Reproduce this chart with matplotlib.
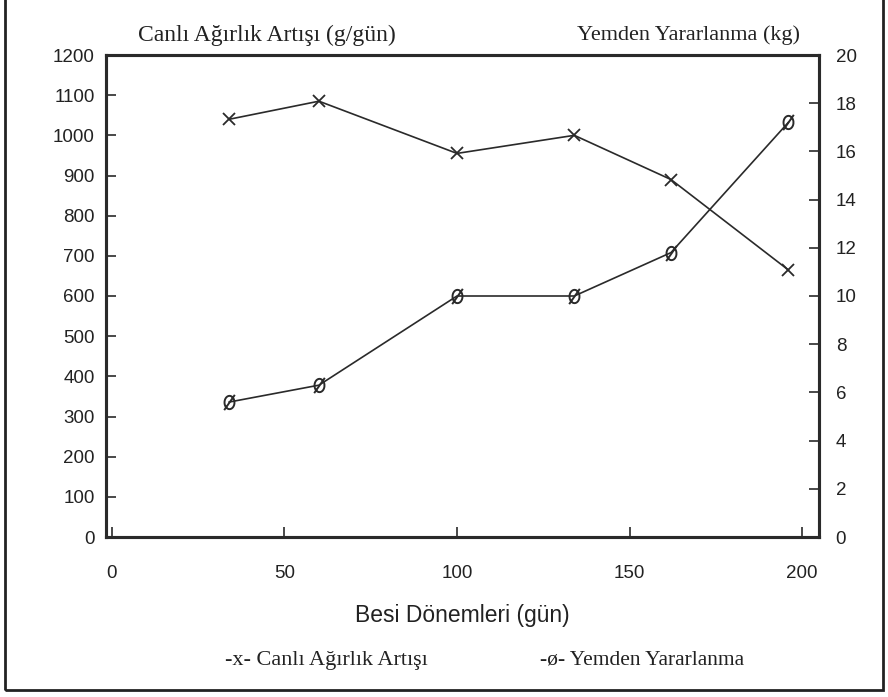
import numpy as np
import matplotlib.pyplot as plt
from matplotlib.patches import Rectangle
from matplotlib.path import Path

# values
days = [34, 60, 100, 134, 162, 196]
canli_artis = [1040, 1085, 955, 1000, 890, 665]    # g/gün, left axis
yemden_yararlanma = [5.6, 6.3, 10.0, 10.0, 11.8, 17.2]  # kg, right axis

x_ticks = [0, 50, 100, 150, 200]
left_ticks = list(range(0, 1201, 100))
right_ticks = list(range(0, 21, 2))

plt.rcParams['font.family'] = ['Liberation Sans', 'DejaVu Sans']
serif = ['Liberation Serif', 'DejaVu Serif']
ink = '#2a2a2a'

# slashed-oval marker (the "ø" of the legend)
t = np.linspace(0, 2 * np.pi, 40)
oval = Path(np.column_stack([0.75 * np.cos(t), np.sin(t)]))
slash = Path([(-0.8, -1.15), (0.8, 1.15)], [Path.MOVETO, Path.LINETO])
o_slash = Path.make_compound_path(oval, slash)

W, H = 888, 697
fig = plt.figure(figsize=(W / 100, H / 100), dpi=100)
ax = fig.add_axes([106 / W, 1 - 537 / H, (819 - 106) / W, (537 - 55) / H])
ax2 = ax.twinx()

ax.plot(days, canli_artis, color=ink, lw=1.2, marker='x', ms=9, mew=1.3)
ax2.plot(days, yemden_yararlanma, color=ink, lw=1.2, marker=o_slash, ms=11,
         mew=1.4, mfc='none', mec=ink)

ax.set_xlim(-1.7, 204.9)
ax.set_ylim(0, 1200)
ax2.set_ylim(0, 20)
ax.set_xticks(x_ticks)
ax.set_yticks(left_ticks)
ax2.set_yticks(right_ticks)

for a in (ax, ax2):
    for s in a.spines.values():
        s.set_linewidth(2.2)
        s.set_color(ink)
ax.tick_params(axis='both', direction='in', length=7, width=1.2, color=ink,
               labelsize=13.5, labelcolor='#222')
ax.tick_params(axis='y', pad=8)
ax.tick_params(axis='x', pad=20)
ax2.tick_params(axis='y', direction='in', length=7, width=1.2, color=ink,
                labelsize=13.5, labelcolor='#222', pad=12)

ax.set_xlabel('Besi Dönemleri (gün)', fontsize=16.5, labelpad=16, color='#222')

fig.text(138 / W, 1 - 35 / H, 'Canlı Ağırlık Artışı (g/gün)', family=serif,
         fontsize=17, ha='left', va='center', color='#222')
fig.text(800 / W, 1 - 35 / H, 'Yemden Yararlanma (kg)', family=serif,
         fontsize=16, ha='right', va='center', color='#222')

fig.text(225 / W, 1 - 660 / H, '-x- Canlı Ağırlık Artışı', family=serif,
         fontsize=16, ha='left', va='center', color='#222')
fig.text(540 / W, 1 - 660 / H, '-ø- Yemden Yararlanma', family=serif,
         fontsize=15.5, ha='left', va='center', color='#222')

# page frame from the scan
fig.patches.append(Rectangle((5 / W, 1 - 690 / H), (883 - 5) / W, 1.0,
                             transform=fig.transFigure, fill=False,
                             lw=2, edgecolor='#222'))

fig.savefig('out.png', dpi=100)
